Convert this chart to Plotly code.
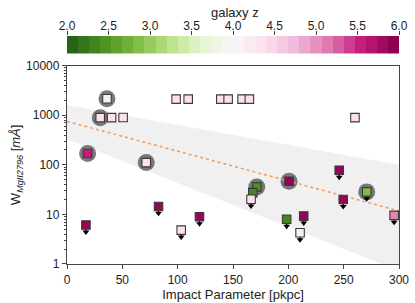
import plotly.graph_objects as go

# ---------------- data ----------------
impact = [18.6, 36.1, 30.0, 40.3, 50.7, 71.6, 98.6, 109.5, 139.0, 145.6, 158.2, 164.8, 260.2,
          171.5, 167.9, 166.3, 200.6, 270.8, 246.0, 249.6, 17.1, 82.7, 103.2, 119.7, 295.6,
          198.5, 213.9, 210.6]
ew = [169, 2160, 895, 895, 900, 111, 2120, 2120, 2120, 2120, 2120, 2120, 895,
      35.9, 27.5, 20.3, 46.8, 28.5, 77.9, 20.0, 6.1, 14.5, 4.83, 8.95, 9.55,
      8.0, 9.25, 4.27]
zgal = [5.6, 4.15, 4.4, 4.4, 4.4, 4.35, 4.4, 4.4, 4.4, 4.4, 4.4, 4.4, 4.4,
        2.4, 2.3, 4.4, 5.95, 2.8, 5.95, 5.95, 5.95, 5.95, 4.4, 5.95, 5.1,
        2.3, 5.95, 4.15]
upper = [False, False, False, False, False, False, False, False, False, False, False, False, False,
         False, False, True, False, True, True, True, True, True, True, True, True,
         True, True, True]
halo = [True, True, True, False, False, True, False, False, False, False, False, False, False,
        True, False, False, True, True, False, False, False, False, False, False, False,
        False, False, False]

fit_x = [0, 300]
fit_y = [754, 11.8]
band_top_x = [0, 300]
band_top_y = [1620, 101]
band_bot_x = [300, 0]
band_bot_y = [0.72, 331]

cbar_edges = [2 + 4 * i / 30 for i in range(31)]
cbar_vals = [2 + 4 * i / 29 for i in range(30)]
cbar_ticks = [2.0, 2.5, 3.0, 3.5, 4.0, 4.5, 5.0, 5.5, 6.0]
y_ticks = [1, 10, 100, 1000, 10000]
y_ticktext = ["1", "10", "100", "1000", "10000"]
x_ticks = [0, 50, 100, 150, 200, 250, 300]

# ---------------- style ----------------
piyg = ['rgb(142,1,82)', 'rgb(197,27,125)', 'rgb(222,119,174)', 'rgb(241,182,218)',
        'rgb(253,224,239)', 'rgb(247,247,247)', 'rgb(230,245,208)', 'rgb(184,225,134)',
        'rgb(127,188,65)', 'rgb(77,146,33)', 'rgb(39,100,25)']
cscale = [[i / 10, c] for i, c in enumerate(reversed(piyg))]
FONT = "Liberation Sans, Arial, sans-serif"
AX = '#444444'
arrow_fac = 1.38

fig = go.Figure()

# band
fig.add_trace(go.Scatter(x=band_top_x + band_bot_x, y=band_top_y + band_bot_y,
                         fill='toself', fillcolor='rgba(0,0,0,0.06)', mode='lines',
                         line=dict(width=0), hoverinfo='skip', showlegend=False))
# halos
hx = [x for x, h in zip(impact, halo) if h]
hy = [y for y, h in zip(ew, halo) if h]
fig.add_trace(go.Scatter(x=hx, y=hy, mode='markers',
                         marker=dict(symbol='circle', size=17, color='rgba(85,85,85,0.78)',
                                     line=dict(width=0)),
                         hoverinfo='skip', showlegend=False))
# fit line
fig.add_trace(go.Scatter(x=fit_x, y=fit_y, mode='lines',
                         line=dict(color='#f39a5c', width=1.5, dash='dot'),
                         hoverinfo='skip', showlegend=False))
# upper-limit arrows
ux = [x for x, u in zip(impact, upper) if u]
uy = [y / arrow_fac for y, u in zip(ew, upper) if u]
ue = [y - y / arrow_fac for y, u in zip(ew, upper) if u]
fig.add_trace(go.Scatter(x=ux, y=uy, mode='markers',
                         marker=dict(symbol='triangle-down', size=6, color='black',
                                     line=dict(width=0)),
                         error_y=dict(type='data', symmetric=False, array=ue,
                                      arrayminus=[0] * len(ue), width=0,
                                      thickness=1.4, color='black'),
                         hoverinfo='skip', showlegend=False))
# squares
fig.add_trace(go.Scatter(x=impact, y=ew, mode='markers',
                         marker=dict(symbol='square', size=8.5, color=zgal,
                                     colorscale=cscale, cmin=2, cmax=6, showscale=False,
                                     line=dict(color='#3a3a3a', width=1.1)),
                         showlegend=False))
# colour bar as heatmap
fig.add_trace(go.Heatmap(x=cbar_edges, y=[0, 1], z=[cbar_vals], colorscale=cscale,
                         zmin=2, zmax=6, showscale=False, xaxis='x2', yaxis='y2',
                         hoverinfo='skip'))

fig.update_layout(
    width=415, height=303,
    margin=dict(l=67, r=16, t=30, b=39),
    paper_bgcolor='white', plot_bgcolor='white',
    font=dict(family=FONT, size=12, color='#222222'),
    xaxis=dict(domain=[0, 1], range=[0, 300], anchor='y', tickvals=x_ticks,
               ticks='outside', ticklen=4, tickcolor=AX, showline=True, linecolor=AX,
               linewidth=1.3, mirror=True, showgrid=False, zeroline=False,
               title=dict(text='Impact Parameter [pkpc]', font=dict(size=13), standoff=4),
               tickfont=dict(size=12), automargin=False),
    yaxis=dict(domain=[0, 0.8474], type='log', range=[0, 4], anchor='x',
               tickvals=y_ticks, ticktext=y_ticktext,
               ticks='outside', ticklen=4, tickcolor=AX, showline=True, linecolor=AX,
               linewidth=1.3, mirror=True, showgrid=False, zeroline=False,
               minor=dict(ticks='outside', ticklen=2, tickcolor=AX, dtick='D1', showgrid=False),
               title=dict(text='W<sub><i>MgII2796</i></sub> [<i>mÅ</i>]', font=dict(size=13),
                          standoff=2),
               tickfont=dict(size=12), automargin=False),
    xaxis2=dict(domain=[0, 1], range=[2, 6], anchor='y2', side='top',
                tickvals=cbar_ticks, tickformat='.1f', ticks='outside', ticklen=4,
                tickcolor=AX, showline=False, showgrid=False, zeroline=False,
                ticklabelstandoff=-4,
                tickfont=dict(size=12), automargin=False),
    yaxis2=dict(domain=[0.8996, 0.9744], range=[0, 1], anchor='x2', showticklabels=False,
                ticks='', showline=False, showgrid=False, zeroline=False),
    annotations=[dict(text='galaxy z', x=0.505, xref='paper', y=1.0, yref='paper',
                      yanchor='middle', xanchor='center', yshift=18, showarrow=False,
                      font=dict(size=13))],
)

fig.write_html("out.html", config={'displayModeBar': False},
               post_script="document.body.style.margin='0';")
